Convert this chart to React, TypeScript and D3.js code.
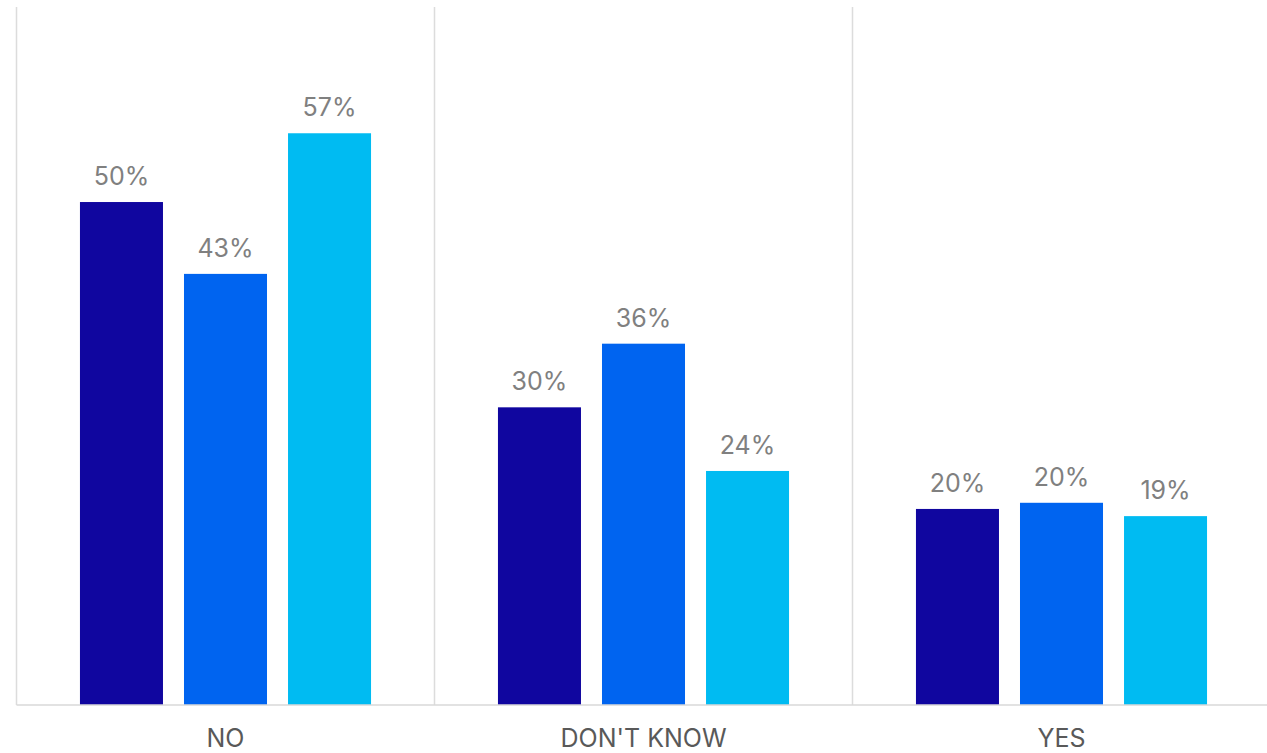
import React from "react";
import * as d3 from "d3";

const categories = ["NO", "DON'T KNOW", "YES"];
const seriesNames = ["Series 1", "Series 2", "Series 3"];
const series1 = [50, 30, 20.1];
const series2 = [43, 36.2, 20.7];
const series3 = [56.7, 23.8, 19.4];
const labels1 = ["50%", "30%", "20%"];
const labels2 = ["43%", "36%", "20%"];
const labels3 = ["57%", "24%", "19%"];
const colors = ["#10069F", "#0064F0", "#00BBF2"];

const W = 1267;
const H = 753;

export default function App() {
  const left = 16.5;
  const catW = 418;
  const baseY = 705;
  const topY = 7;

  const x0 = d3.scaleBand<string>().domain(categories).range([left, left + catW * categories.length]).padding(0);
  const x1 = d3.scaleBand<string>().domain(seriesNames).range([0, catW]).paddingInner(0.202).paddingOuter(0.61);
  const y = d3.scaleLinear().domain([1, 69]).range([baseY, topY]);

  const values = [series1, series2, series3];
  const labels = [labels1, labels2, labels3];
  const font = "Inter, 'Noto Sans', sans-serif";

  return (
    <svg width={W} height={H} style={{ position: "absolute", left: 0, top: 0, background: "#fff" }}>
      {categories.map((c, i) => (
        <line key={"v" + i} x1={x0(c)!} x2={x0(c)!} y1={topY} y2={baseY} stroke="#dcdcdc" strokeWidth={1.5} />
      ))}
      <line x1={left + catW * 3} x2={left + catW * 3} y1={topY} y2={baseY} stroke="#dcdcdc" strokeWidth={1.5} />
      {categories.map((c, ci) => (
        <g key={c} transform={`translate(${x0(c)},0)`}>
          {seriesNames.map((s, si) => {
            const v = values[si][ci];
            const yy = y(v);
            return (
              <g key={s}>
                <rect x={x1(s)!} y={yy} width={x1.bandwidth()} height={baseY - yy} fill={colors[si]} />
                <text
                  x={x1(s)! + x1.bandwidth() / 2}
                  y={yy - 17}
                  textAnchor="middle"
                  fontFamily={font}
                  fontSize={25}
                  fill="#808080"
                >
                  {labels[si][ci]}
                </text>
              </g>
            );
          })}
          <text x={catW / 2} y={747} textAnchor="middle" fontFamily={font} fontSize={25} fill="#595959">
            {c}
          </text>
        </g>
      ))}
      <line x1={left} x2={W} y1={baseY} y2={baseY} stroke="#d9d9d9" strokeWidth={1.5} />
    </svg>
  );
}
